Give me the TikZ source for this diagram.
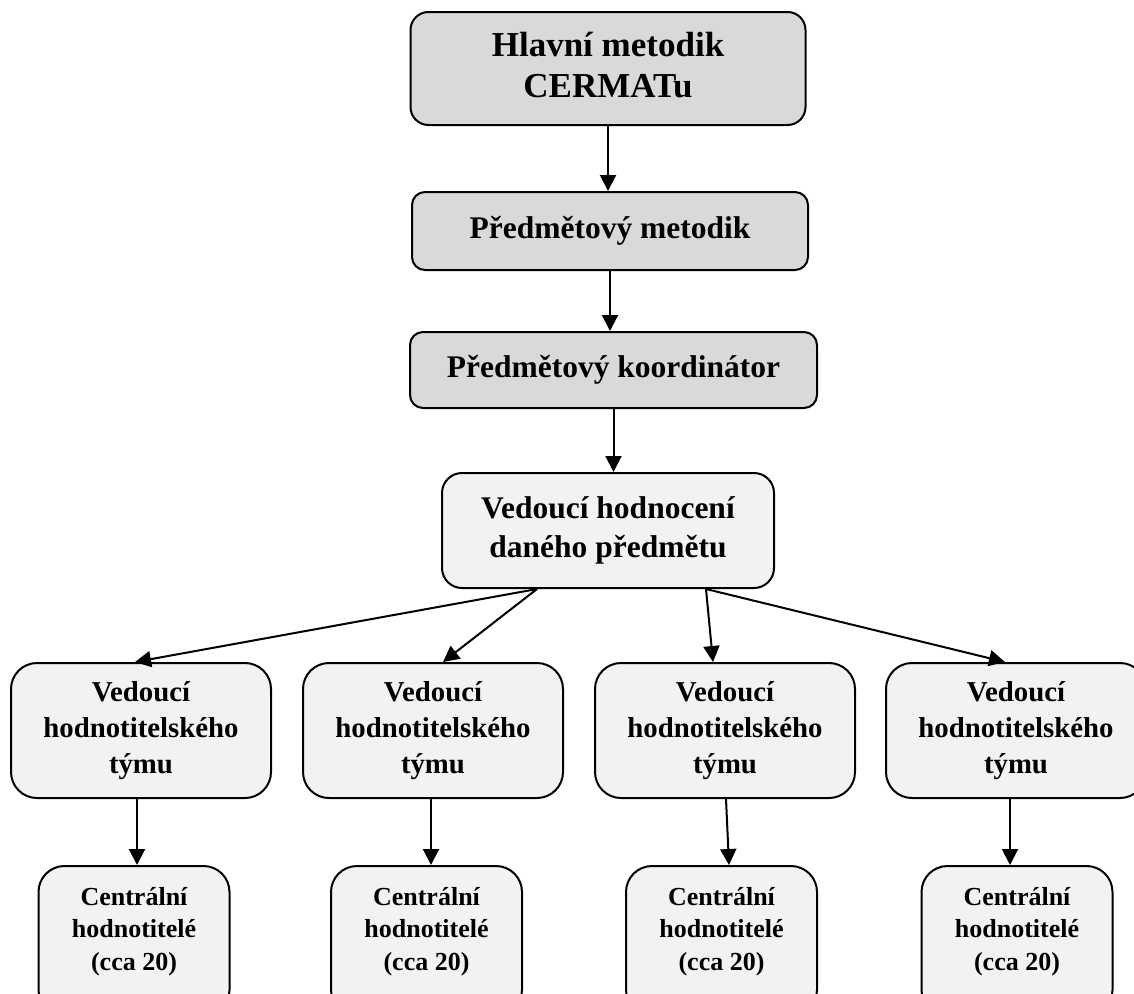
\documentclass[tikz,border=0pt]{standalone}
\usepackage{fontspec}
\setmainfont{Liberation Serif}
\usetikzlibrary{arrows.meta}
\definecolor{topgray}{HTML}{D9D9D9}
\definecolor{lowgray}{HTML}{F2F2F2}
\newcommand{\tx}[3]{{\fontsize{#1}{#2}\selectfont\bfseries\begin{tabular}{@{}c@{}}#3\end{tabular}}}
\begin{document}
\begin{tikzpicture}[x=1pt,y=-1pt,
  box/.style={draw=black, line width=2pt, rounded corners=#1, inner sep=0pt, align=center},
  topbox/.style={box=#1, fill=topgray},
  lowbox/.style={box=#1, fill=lowgray},
  arr/.style={line width=2pt, -{Triangle[length=16pt,width=16pt]}}]
\useasboundingbox (0,0) rectangle (1134,993);
\clip (0,0) rectangle (1134,993);

\node[topbox=18pt, minimum width=395pt, minimum height=113pt] (b1) at (608,68.5) {\tx{35}{41}{Hlavní metodik\\CERMATu}};
\node[topbox=13pt, minimum width=396pt, minimum height=78pt] (b2) at (610,231) {\tx{31.5}{38}{Předmětový metodik}};
\node[topbox=13pt, minimum width=407pt, minimum height=76pt] (b3) at (613.5,370) {\tx{31.5}{38}{Předmětový koordinátor}};
\node[lowbox=20pt, minimum width=332pt, minimum height=115pt] (b4) at (608,530.5) {\tx{31.5}{39}{Vedoucí hodnocení\\daného předmětu}};

\foreach \n/\x in {ra/141,rb/433,rc/725,rd/1016}{
  \node[lowbox=26pt, minimum width=260pt, minimum height=135pt] (\n) at (\x,730.5) {\tx{28.8}{36}{Vedoucí\\hodnotitelského\\týmu}};
}
\foreach \n/\x in {ca/134,cb/426.5,cc/721.5,cd/1017}{
  \node[lowbox=26pt, minimum width=191pt, minimum height=150pt] (\n) at (\x,941) {};
}
\path (ca.north) ++(0,66) node (la) {\tx{26}{32.5}{Centrální\\hodnotitelé\\(cca 20)}};
\path (cb.north) ++(0,66) node (lb) {\tx{26}{32.5}{Centrální\\hodnotitelé\\(cca 20)}};
\path (cc.north) ++(0,66) node (lc) {\tx{26}{32.5}{Centrální\\hodnotitelé\\(cca 20)}};
\path (cd.north) ++(0,66) node (ld) {\tx{26}{32.5}{Centrální\\hodnotitelé\\(cca 20)}};

\draw[arr] (b1.south) -- (b1.south |- b2.north);
\draw[arr] (b2.south) -- (b2.south |- b3.north);
\draw[arr] (b3.south) -- (b3.south |- b4.north);

\coordinate (s1) at ([xshift=-71pt]b4.south);
\coordinate (s2) at ([xshift=98pt]b4.south);
\draw[arr] (s1) -- ([xshift=-6pt]ra.north);
\draw[arr] (s1) -- ([xshift=10pt]rb.north);
\draw[arr] (s2) -- ([xshift=-12pt]rc.north);
\draw[arr] (s2) -- ([xshift=-11pt]rd.north);

\coordinate (da) at ([xshift=-4pt]ra.south);
\coordinate (db) at ([xshift=-2pt]rb.south);
\coordinate (dc) at ([xshift=1pt]rc.south);
\coordinate (dd) at ([xshift=-6pt]rd.south);
\draw[arr] (da) -- (da |- ca.north);
\draw[arr] (db) -- (db |- cb.north);
\draw[arr] (dc) -- ([xshift=3pt]dc |- cc.north);
\draw[arr] (dd) -- (dd |- cd.north);
\end{tikzpicture}
\end{document}
